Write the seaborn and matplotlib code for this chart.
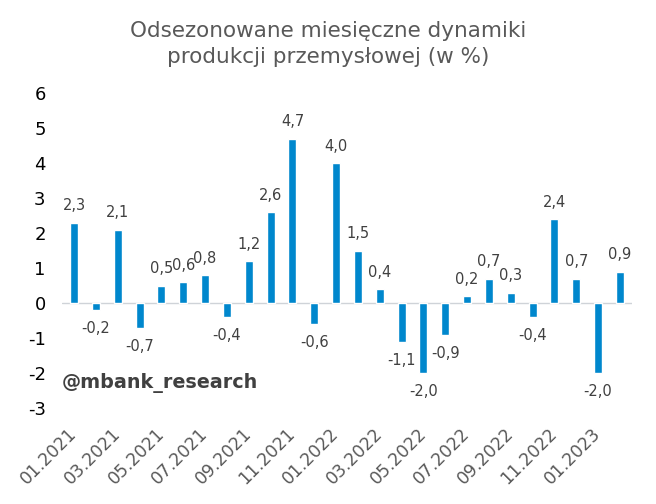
import matplotlib
matplotlib.use("Agg")
import matplotlib.pyplot as plt
import seaborn as sns
import pandas as pd

months = ["01.2021", "02.2021", "03.2021", "04.2021", "05.2021", "06.2021",
          "07.2021", "08.2021", "09.2021", "10.2021", "11.2021", "12.2021",
          "01.2022", "02.2022", "03.2022", "04.2022", "05.2022", "06.2022",
          "07.2022", "08.2022", "09.2022", "10.2022", "11.2022", "12.2022",
          "01.2023", "02.2023"]
values = [2.3, -0.2, 2.1, -0.7, 0.5, 0.6, 0.8, -0.4, 1.2, 2.6, 4.7, -0.6,
          4.0, 1.5, 0.4, -1.1, -2.0, -0.9, 0.2, 0.7, 0.3, -0.4, 2.4, 0.7,
          -2.0, 0.9]
yticks = [-3, -2, -1, 0, 1, 2, 3, 4, 5, 6]
title = "Odsezonowane miesięczne dynamiki\nprodukcji przemysłowej (w %)"
watermark = "@mbank_research"

sns.set_theme(style="white")
plt.rcParams['font.family'] = ['DejaVu Sans']

df = pd.DataFrame({"month": months, "value": values})

fig = plt.figure(figsize=(6.56, 5.04), dpi=100)
ax = fig.add_axes([0.095, 0.190, 0.868, 0.625])

sns.barplot(data=df, x="month", y="value", color="#0087CD", saturation=1,
            width=0.37, ax=ax)

ax.set_xlim(-0.54, len(months) - 1 + 0.54)
ax.set_ylim(-3, 6)
ax.set_yticks(yticks)
ax.set_yticklabels([str(t) for t in yticks], fontsize=13, color="black")
ax.tick_params(axis="y", length=0, pad=12)

pos = list(range(0, len(months), 2))
ax.set_xticks(pos)
ax.set_xticklabels([months[i] for i in pos], rotation=45, ha="right",
                   va="center", rotation_mode="anchor", fontsize=12.5,
                   color="#595959")
ax.tick_params(axis="x", length=0, pad=16)

for s in ax.spines.values():
    s.set_visible(False)
ax.axhline(0, color="#cfd3d8", lw=1, zorder=0.5)
ax.set_xlabel("")
ax.set_ylabel("")

bars = list(ax.containers[0])
lab = [f"{v:.1f}".replace(".", ",") for v in values]
for i, b in enumerate(bars):
    x = b.get_x() + b.get_width() / 2
    y = values[i]
    ax.annotate(lab[i], (x, y), xytext=(0, 7 if y >= 0 else -8),
                textcoords="offset points", ha="center",
                va="bottom" if y >= 0 else "top",
                fontsize=10.5, color="#404040")

fig.text(0.5, 0.913, title, ha="center", va="center", fontsize=15.5,
         color="#595959", linespacing=1.4)
fig.text(0.0945, 0.24, watermark, ha="left", va="center", fontsize=13.8,
         fontweight="bold", color="#404040")

fig.savefig("out.png", dpi=100)
